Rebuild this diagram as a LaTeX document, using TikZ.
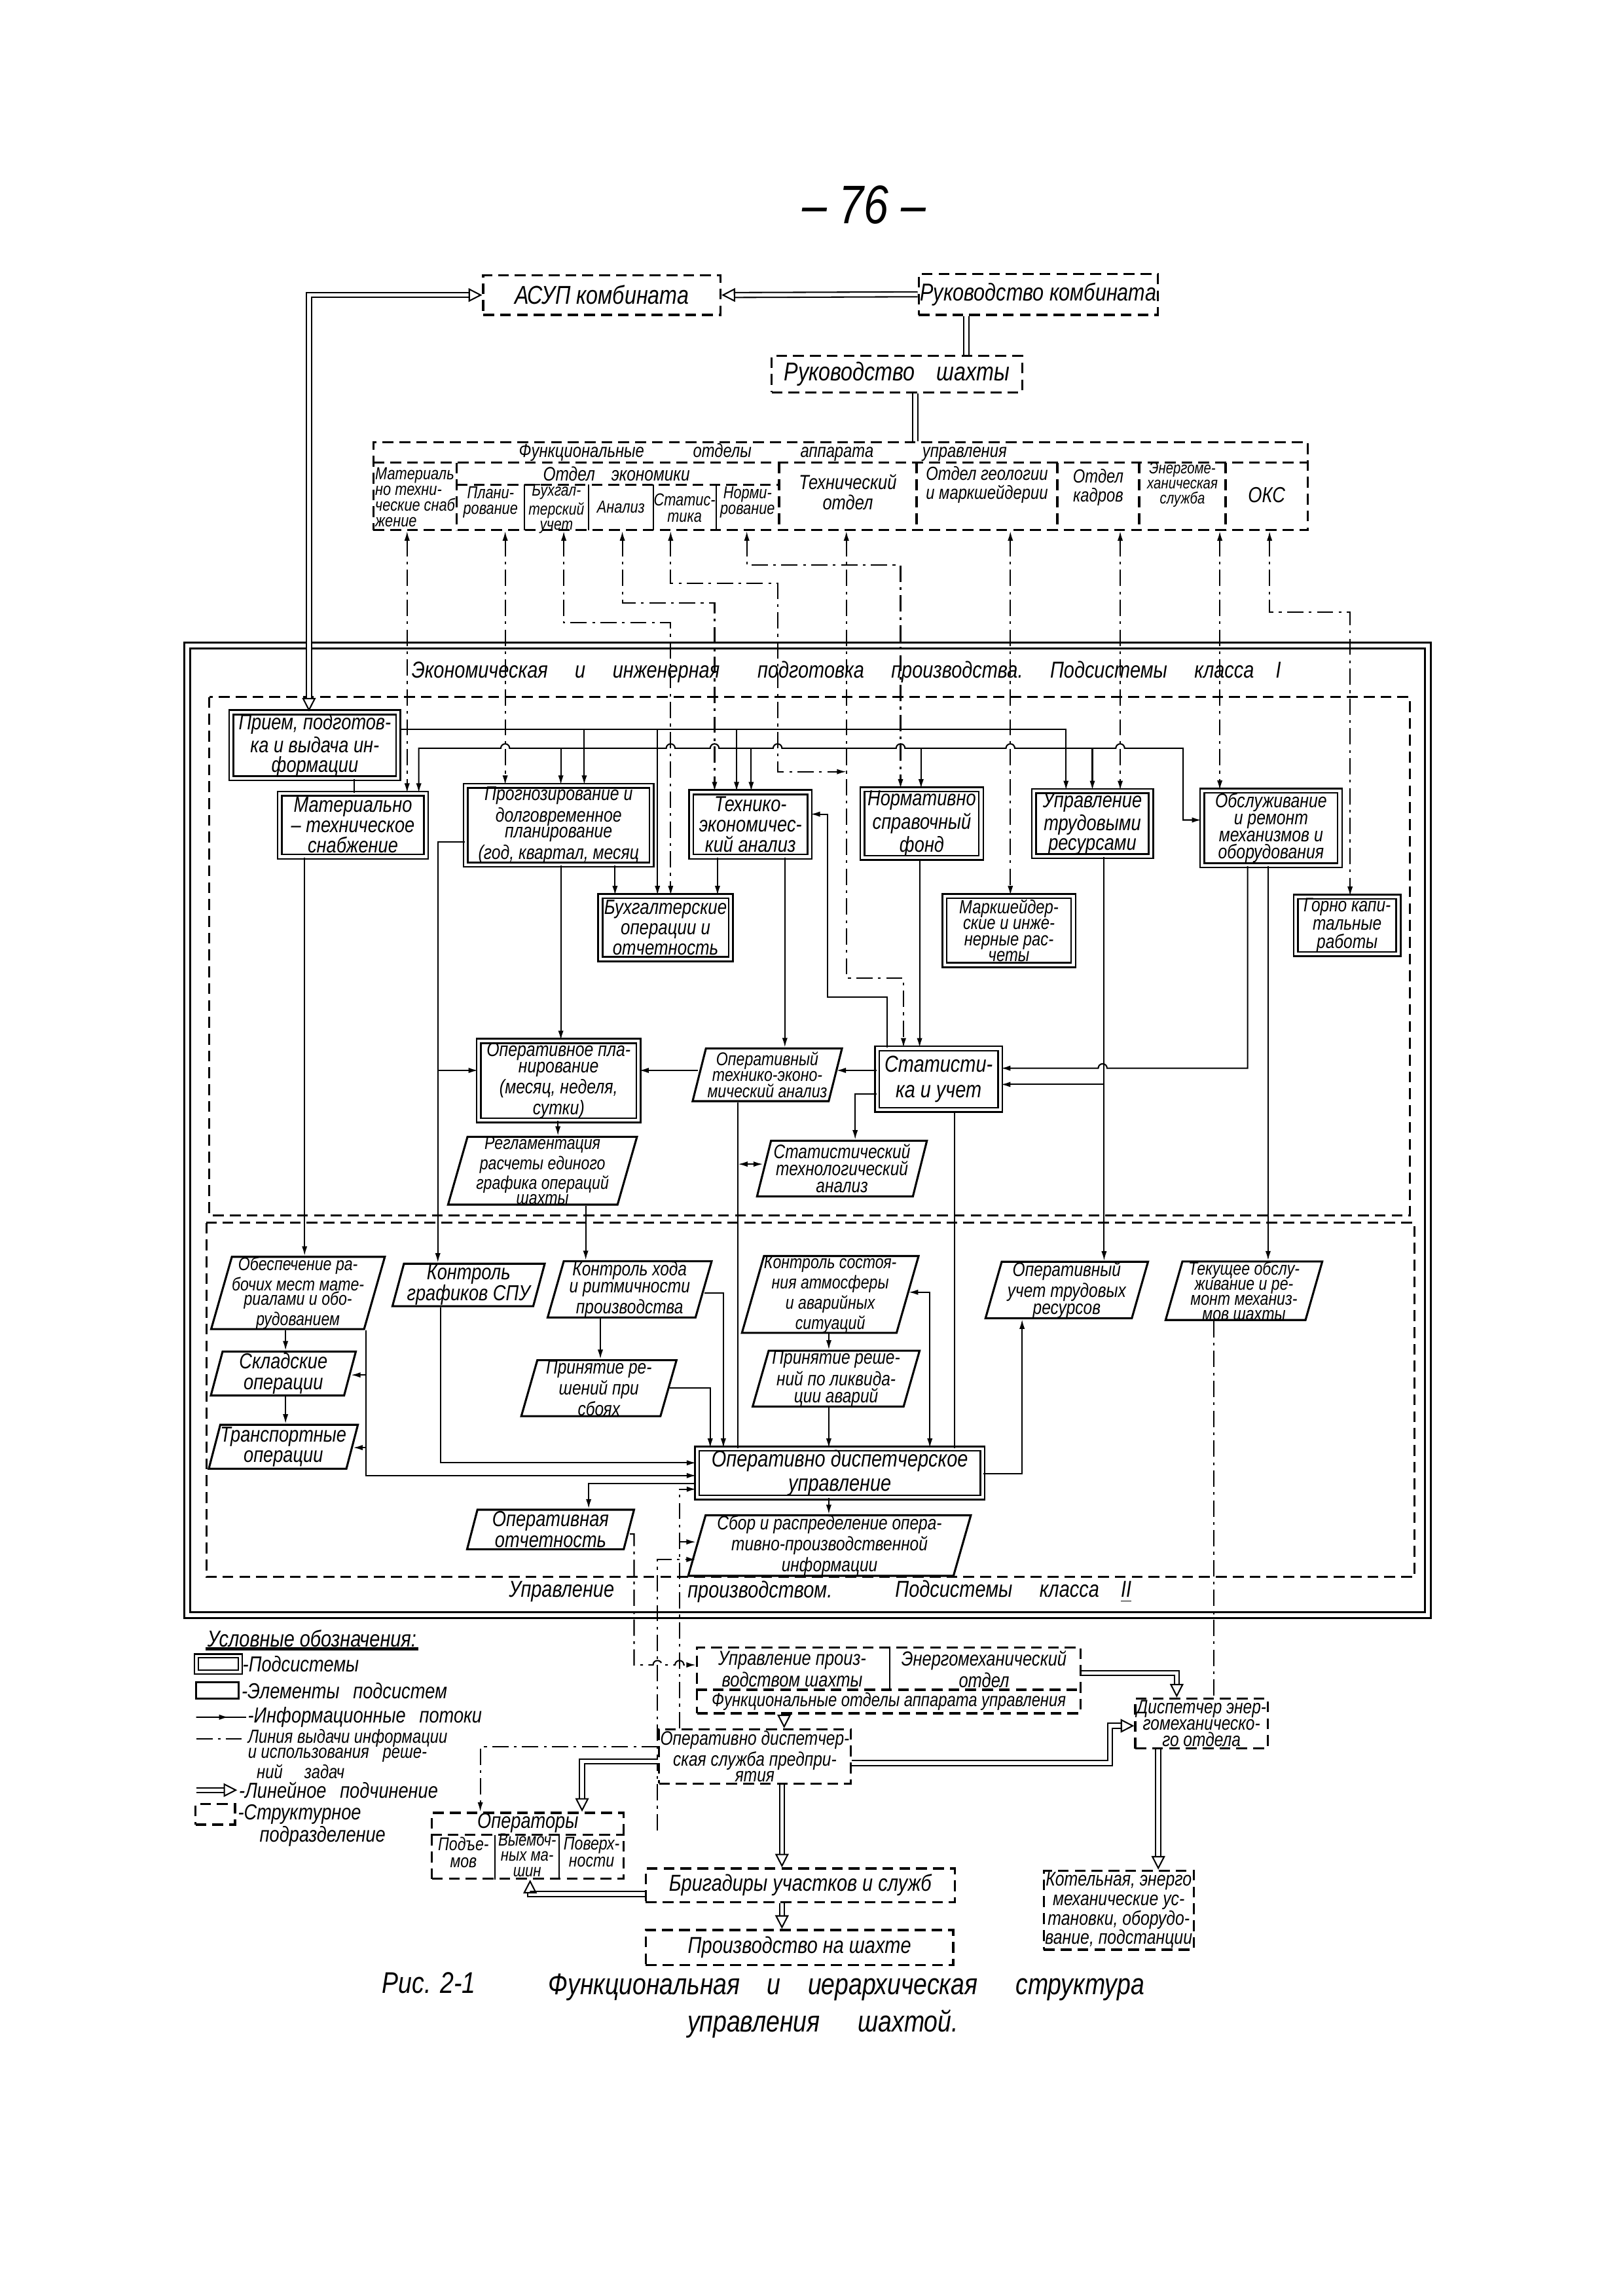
\documentclass[tikz,border=0pt]{standalone}
\usepackage{fontspec}
\setmainfont{Liberation Sans}
\newfontfamily\hand{Liberation Sans}[FakeStretch=0.82]
\usetikzlibrary{arrows.meta,shapes.geometric,calc}
\newcommand\pu{0.018953cm}
\newcommand\hfs[2]{\hand\itshape\fontsize{#1}{#2}\selectfont}
\newcommand\tightlines{\lineskiplimit=-20pt\lineskip=0pt\relax}

\tikzset{
  every node/.style={inner sep=0.5pt, font=\hfs{7}{7.4}},
  subsys/.style={draw, double, double distance=1pt, line width=0.6pt, align=center, font=\hfs{8}{7.4}},
  elem/.style={draw, line width=0.75pt, trapezium, trapezium left angle=74, trapezium right angle=106,
    trapezium stretches body, align=center, inner sep=0pt, font=\hfs{7.2}{6.3}},
  deptline/.style={line width=0.8pt, dash pattern=on 4pt off 2.2pt},
  dept/.style={draw, deptline, align=center},
  tip/.style={-{Latex[length=3.5pt,width=2pt]}},
  link/.style={line width=0.5pt},
  flow/.style={link, tip},
  biflow/.style={link, {Latex[length=3.5pt,width=2pt]}-{Latex[length=3.5pt,width=2pt]}},
  issue/.style={line width=0.5pt, dash pattern=on 6pt off 2pt on 1pt off 2pt},
  dline/.style={double, double distance=1.3pt, line width=0.5pt},
  subord/.style={dline, -{Triangle[open,length=5pt,width=5pt]}}
}

\begin{document}
\begin{tikzpicture}[x=0.018953cm, y=-0.018953cm]
\useasboundingbox (0,0) rectangle (1108,1568);

\node[font=\hfs{20}{22}] (pnum) at (590,140) {– 76 –};

% top of the hierarchy
\node[dept, minimum width=162*\pu, minimum height=27*\pu, font=\hfs{9.5}{10}] (asup) at (411,201.5) {АСУП комбината};
\node[dept, minimum width=162*\pu, minimum height=28*\pu, font=\hfs{9}{10}] (rkomb) at (709,201) {Руководство комбината};
\node[dept, minimum width=171*\pu, minimum height=25*\pu, font=\hfs{9.5}{10}] (rshaht) at (612.5,255.5) {Руководство\hspace{8pt}шахты};
\draw[subord] (rkomb.west) -- (asup.east);
\draw[dline] (660,0 |- rkomb.south) -- (660,0 |- rshaht.north);

% functional departments
\node[dept, minimum width=638*\pu, minimum height=60*\pu] (fund) at (574,332) {};
\draw[dline] (625,0 |- rshaht.south) -- (625,0 |- fund.north);
\draw[deptline] (255,316) -- (893,316);
\draw[deptline] (312,331) -- (532,331);
\foreach \x in {312,532,626,722,778,837} \draw[deptline] (\x,316) -- (\x,362);
\foreach \x in {358,402,446,489} \draw[link] (\x,331) -- (\x,362);
\node[font=\hfs{7}{7}] (fundt) at (521,309) {Функциональные\hspace{18pt}отделы\hspace{18pt}аппарата\hspace{18pt}управления};
\node[font=\hfs{6.4}{5.8}, align=left] (d1) at (283.5,339.5) {Материаль\\но техни-\\ческие снаб\\жение};
\node[font=\hfs{7.2}{7}] (d2) at (421,323.5) {Отдел\hspace{6pt}экономики};
\node[font=\hfs{6.4}{6}, align=center] (d3) at (335,343) {Плани-\\рование};
\node[font=\hfs{6.2}{5.6}, align=center] (d4) at (380,347.5) {Бухгал-\\терский\\учет};
\node[font=\hfs{6.4}{6}, align=center] (d5) at (424,346.5) {Анализ};
\node[font=\hfs{6.4}{6}, align=center] (d6) at (467.5,347) {Статис-\\тика};
\node[font=\hfs{6.4}{6}, align=center] (d7) at (510.5,343) {Норми-\\рование};
\node[font=\hfs{7.5}{7.5}, align=center] (d8) at (579,336) {Технический\\отдел};
\node[font=\hfs{7}{7}, align=center] (d9) at (674,331) {Отдел геологии\\и маркшейдерии};
\node[font=\hfs{7}{7}, align=center] (d10) at (750,333) {Отдел\\кадров};
\node[font=\hfs{6}{5.6}, align=center] (d11) at (807.5,331) {Энергоме-\\ханическая\\служба};
\node[font=\hfs{8}{8}] (d12) at (865,338) {ОКС};

% frame of the two classes
\draw[line width=0.7pt, double, double distance=1.5pt] (128,441) rectangle (975,1103);
\draw[deptline, line width=0.7pt] (143,476) rectangle (963,830);
\draw[deptline, line width=0.7pt] (141,835) rectangle (966,1077);
\node[font=\hfs{8.5}{9}] (t1) at (578,459) {Экономическая\hspace{10pt}и\hspace{10pt}инженерная\hspace{14pt}подготовка\hspace{10pt}производства.\hspace{10pt}Подсистемы\hspace{10pt}класса\hspace{8pt}I};
\node[font=\hfs{8.5}{9}] (t2a) at (383.5,1087) {Управление};
\node[font=\hfs{8.5}{9}] (t2b) at (519,1087) {производством.};
\node[font=\hfs{8.5}{9}] (t2c) at (692,1087) {Подсистемы\hspace{10pt}класса\hspace{8pt}\underline{II}};

% class I
\node[subsys, minimum width=114*\pu, minimum height=42*\pu] (priem) at (215,509) {Прием, подготов-\\ка и выдача ин-\\формации};
\node[subsys, minimum width=100*\pu, minimum height=43*\pu] (mat) at (241,563.5) {Материально\\– техническое\\снабжение};
\node[subsys, minimum width=127*\pu, minimum height=45*\pu, font=\hfs{7.3}{5.9}] (prog) at (381.5,563.5) {Прогнозирование и\\долговременное\\планирование\\(год, квартал, месяц};
\node[subsys, minimum width=81*\pu, minimum height=44*\pu] (tea) at (512.5,563) {Технико-\\экономичес-\\кий анализ};
\node[subsys, minimum width=81*\pu, minimum height=43*\pu] (norm) at (629.5,562.5) {Нормативно\\справочный\\фонд};
\node[subsys, minimum width=80*\pu, minimum height=43*\pu] (trud) at (746,562.5) {Управление\\трудовыми\\ресурсами};
\node[subsys, minimum width=94*\pu, minimum height=51*\pu, font=\hfs{7.3}{6.3}] (obsl) at (868,565.5) {Обслуживание\\и ремонт\\механизмов и\\оборудования};
\node[subsys, minimum width=89*\pu, minimum height=43*\pu, font=\hfs{7.6}{7.4}] (buh) at (454.5,633.5) {Бухгалтерские\\операции и\\отчетность};
\node[subsys, minimum width=88*\pu, minimum height=47*\pu, font=\hfs{7}{5.9}] (mark) at (689,635.5) {Маркшейдер-\\ские и инже-\\нерные рас-\\четы};
\node[subsys, minimum width=70*\pu, minimum height=38*\pu, font=\hfs{7.2}{6.8}] (gorn) at (920,632) {Горно капи-\\тальные\\работы};
\node[subsys, minimum width=109*\pu, minimum height=44*\pu, font=\hfs{7.3}{6}] (opplan) at (381.5,738) {Оперативное пла-\\нирование\\(месяц, неделя,\\сутки)};
\node[elem, minimum width=102*\pu, minimum height=36*\pu, font=\hfs{6.8}{6}] (optea) at (524,734) {Оперативный\\технико-эконо-\\мический анализ};
\node[subsys, minimum width=84*\pu, minimum height=42*\pu, font=\hfs{8.5}{9.5}] (stat) at (641,737) {Статисти-\\ка и учет};
\node[elem, minimum width=129*\pu, minimum height=41*\pu, font=\hfs{6.8}{5.5}] (regl) at (370.5,799.5) {Регламентация\\расчеты единого\\графика операций\\шахты};
\node[elem, minimum width=116*\pu, minimum height=38*\pu] (stta) at (575,798) {Статистический\\технологический\\анализ};

% class II
\node[elem, minimum width=117*\pu, minimum height=40*\pu, font=\hfs{6.8}{5.5}] (obesp) at (203.5,883) {Обеспечение ра-\\бочих мест мате-\\риалами и обо-\\рудованием};
\node[elem, minimum width=104*\pu, minimum height=29*\pu, font=\hfs{8}{7.6}] (kspu) at (320,877.5) {Контроль\\графиков СПУ};
\node[elem, minimum width=112*\pu, minimum height=35*\pu] (khod) at (430,880.5) {Контроль хода\\и ритмичности\\производства};
\node[elem, minimum width=112*\pu, minimum height=42*\pu, font=\hfs{6.8}{5.5}] (katm) at (567,884) {Контроль состоя-\\ния атмосферы\\и аварийных\\ситуаций};
\node[elem, minimum width=111*\pu, minimum height=38*\pu] (ouchet) at (728.5,881) {Оперативный\\учет трудовых\\ресурсов};
\node[elem, minimum width=107*\pu, minimum height=39*\pu, font=\hfs{6.8}{5.5}] (tekob) at (849.5,881.5) {Текущее обслу-\\живание и ре-\\монт механиз-\\мов шахты};
\node[elem, minimum width=99*\pu, minimum height=30*\pu, font=\hfs{8}{7.6}] (sklad) at (193.5,938) {Складские\\операции};
\node[elem, minimum width=95*\pu, minimum height=30*\pu, font=\hfs{8}{7.6}] (transp) at (193.5,988) {Транспортные\\операции};
\node[elem, minimum width=106*\pu, minimum height=34*\pu] (sboi) at (409,948) {Принятие ре-\\шений при\\сбоях};
\node[elem, minimum width=114*\pu, minimum height=37*\pu] (likv) at (571,941.5) {Принятие реше-\\ний по ликвида-\\ции аварий};
\node[subsys, minimum width=195*\pu, minimum height=32*\pu, font=\hfs{8.5}{9}] (oddisp) at (573.5,1006) {Оперативно диспетчерское\\управление};
\node[elem, minimum width=114*\pu, minimum height=27*\pu, font=\hfs{8}{7.6}] (opotch) at (376,1044.5) {Оперативная\\отчетность};
\node[elem, minimum width=193*\pu, minimum height=33*\pu] (sbor) at (566.5,1055.5) {Сбор и распределение опера-\\тивно-производственной\\информации};

\draw[dline, {Triangle[open,length=5pt,width=5pt]}-{Triangle[open,length=5pt,width=5pt]}] (asup.west) -| (211,0 |- priem.north);

% connectors from the functional departments
\draw[issue, biflow] (278,0 |- fund.south) -- (278,0 |- mat.north);
\draw[issue, biflow] (345,0 |- fund.south) -- (345,0 |- prog.north);
\draw[issue, biflow] (385,0 |- fund.south) |- (458,425.4) -- (458,0 |- buh.north);
\draw[issue, biflow] (425,0 |- fund.south) |- (488,411.6) -- (488,0 |- tea.north);
\draw[issue, biflow] (458,0 |- fund.south) |- (531,398.5) |- (578,527);
\draw[issue, biflow] (510,0 |- fund.south) |- (615,386) -- (615,0 |- norm.north);
\draw[issue, biflow] (578,0 |- fund.south) |- (617,668) -- (617,0 |- stat.north);
\draw[issue, biflow] (690,0 |- fund.south) -- (690,0 |- mark.north);
\draw[issue, biflow] (765,0 |- fund.south) -- (765,0 |- trud.north);
\draw[issue, biflow] (833,0 |- fund.south) -- (833,0 |- obsl.north);
\draw[issue, biflow] (867,0 |- fund.south) |- (922,418) -- (922,0 |- gorn.north);

% buses of class I
\draw[flow] (priem.east |- 0,498) -| (728,0 |- trud.north);
\draw[flow] (399,498) -- (399,0 |- prog.north);
\draw[flow] (449,498) -- (449,0 |- buh.north);
\draw[flow] (503,498) -- (503,0 |- tea.north);
\draw[biflow] (286,0 |- mat.north) -- (286,511) -- (342,511) arc[start angle=180,end angle=360,radius=3]
  -- (455,511) arc[start angle=180,end angle=360,radius=3]
  -- (485,511) arc[start angle=180,end angle=360,radius=3]
  -- (528,511) arc[start angle=180,end angle=360,radius=3]
  -- (612,511) arc[start angle=180,end angle=360,radius=3]
  -- (687,511) arc[start angle=180,end angle=360,radius=3]
  -- (762,511) arc[start angle=180,end angle=360,radius=3]
  -- (808,511) |- (obsl.west |- 0,560);
\draw[flow] (383,511) -- (383,0 |- prog.north);
\draw[flow] (513,511) -- (513,0 |- tea.north);
\draw[flow] (629,511) -- (629,0 |- norm.north);
\draw[flow] (746,511) -- (746,0 |- trud.north);

% inside class I
\draw[link] (242,0 |- priem.south) -- (242,0 |- mat.north);
\draw[flow] (208,0 |- mat.south) -- (208,0 |- obesp.north);
\draw[flow] (prog.west |- 0,575) -| (299,0 |- kspu.north);
\draw[flow] (299,731) -- (opplan.west |- 0,731);
\draw[flow] (383,0 |- prog.south) -- (383,0 |- opplan.north);
\draw[flow] (420,0 |- prog.south) -- (420,0 |- buh.north);
\draw[flow] (490,0 |- tea.south) -- (490,0 |- buh.north);
\draw[flow] (536,0 |- tea.south) -- (536,0 |- optea.north);
\draw[flow] (606,0 |- stat.north) |- (565,681) |- (tea.east |- 0,556);
\draw[flow] (628,0 |- norm.south) -- (628,0 |- stat.north);
\draw[flow] (optea.west |- 0,731) -- (opplan.east |- 0,731);
\draw[flow] (stat.west |- 0,731) -- (optea.east |- 0,731);
\draw[flow] (381,0 |- opplan.south) -- (381,0 |- regl.north);
\draw[flow] (stat.west |- 0,747) -| (584,0 |- stta.north);
\draw[link] (504,0 |- optea.south) -- (504,0 |- oddisp.north);
\draw[biflow] (504,795) -- (stta.west |- 0,795);
\draw[flow] (400,0 |- regl.south) -- (400,0 |- khod.north);
\draw[link] (652,0 |- stat.south) -- (652,0 |- oddisp.north);
\draw[flow] (852,0 |- obsl.south) |- (756,729.5) arc[start angle=0,end angle=-180,radius=3] -- (stat.east |- 0,729.5);
\draw[flow] (754,0 |- trud.south) -- (754,0 |- ouchet.north);
\draw[flow] (754,740.6) -- (stat.east |- 0,740.6);
\draw[flow] (866,0 |- obsl.south) -- (866,0 |- tekob.north);

% inside class II
\draw[flow] (195,0 |- obesp.south) -- (195,0 |- sklad.north);
\draw[flow] (195,0 |- sklad.south) -- (195,0 |- transp.north);
\draw[flow] (250,0 |- obesp.south) |- (oddisp.west |- 0,1007.7);
\draw[flow] (250,939) -- (sklad.east |- 0,939);
\draw[flow] (250,988.6) -- (transp.east |- 0,988.6);
\draw[flow] (301,0 |- kspu.south) |- (oddisp.west |- 0,999);
\draw[flow] (410,0 |- khod.south) -- (410,0 |- sboi.north);
\draw[flow] (khod.east |- 0,883) -| (494,0 |- oddisp.north);
\draw[flow] (sboi.east |- 0,948) -| (485,0 |- oddisp.north);
\draw[flow] (566,0 |- katm.south) -- (566,0 |- likv.north);
\draw[flow] (566,0 |- likv.south) -- (566,0 |- oddisp.north);
\draw[biflow] (635,0 |- oddisp.north) |- (katm.east |- 0,882.5);
\draw[flow] (oddisp.east |- 0,1006.5) -| (698,0 |- ouchet.south);
\draw[flow] (566,0 |- oddisp.south) -- (566,0 |- sbor.north);
\draw[flow] (oddisp.west |- 0,1013) -| (402,0 |- opotch.north);

% lower organisation
\node[dept, minimum width=262*\pu, minimum height=45*\pu] (upr) at (607,1147.5) {};
\draw[deptline] (upr.west |- 0,1154) -- (upr.east |- 0,1154);
\draw[link] (607.6,0 |- upr.north) -- (607.6,1154);
\node[font=\hfs{7.5}{6.6}, align=center] (upra) at (541,1140) {Управление произ-\\водством шахты};
\node[font=\hfs{7.5}{6.6}, align=center] (uprb) at (672,1140) {Энергомеханический\\отдел};
\node[font=\hfs{7}{7}] (uprc) at (607,1162) {Функциональные отделы аппарата управления};
\node[dept, minimum width=125*\pu, minimum height=33*\pu, font=\hfs{7.2}{5.9}] (odsl) at (515.5,1199.5) {Оперативно диспетчер-\\ская служба предпри-\\ятия};
\node[dept, minimum width=85*\pu, minimum height=34*\pu, font=\hfs{7.2}{6}] (dispen) at (820.5,1177) {Диспетчер энер-\\гомеханическо-\\го отдела};
\node[dept, minimum width=211*\pu, minimum height=23*\pu, font=\hfs{8.5}{9}] (brig) at (546.5,1287.5) {Бригадиры участков и служб};
\node[dept, minimum width=210*\pu, minimum height=24*\pu, font=\hfs{8.5}{9}] (proizv) at (546,1330) {Производство на шахте};
\node[dept, minimum width=92*\pu, minimum height=49*\pu, font=\hfs{7.3}{7.2}] (kotel) at (764,1304.5) {Котельная, энерго\\механические ус-\\тановки, оборудо-\\вание, подстанции};
\node[dept, minimum width=131*\pu, minimum height=45*\pu] (oper) at (360.5,1260.5) {};
\draw[deptline] (oper.west |- 0,1253) -- (oper.east |- 0,1253);
\foreach \x in {338,382} \draw[link] (\x,1253) -- (\x,0 |- oper.south);
\node[font=\hfs{8}{8}] (opera) at (360.5,1245) {Операторы};
\node[font=\hfs{6.8}{6.3}, align=center] (operb) at (316.5,1265) {Подъе-\\мов};
\node[font=\hfs{6.5}{5.6}\tightlines, align=center] (operc) at (360,1267) {Выемоч-\\ных ма-\\шин};
\node[font=\hfs{6.8}{6.3}, align=center] (operd) at (404,1265) {Поверх-\\ности};

\draw[issue] (829,0 |- tekob.south) -- (829,0 |- dispen.north);
\draw[issue, tip] (464,0 |- odsl.north) |- (oddisp.west |- 0,1017);
\draw[issue, tip] (464,1053) -- (sbor.west |- 0,1053);
\coordinate (e449) at (449,1250);
\draw[issue, tip] (e449) |- (sbor.west |- 0,1065);
\draw[issue, tip] (opotch.east |- 0,1047.6) -- (433,1047.6) -- (433,1137) -- (446,1137)
  arc[start angle=180,end angle=360,radius=3] -- (461,1137)
  arc[start angle=180,end angle=360,radius=3] -- (upr.west |- 0,1137);
\draw[subord] (535.5,0 |- upr.south) -- (535.5,0 |- odsl.north);
\draw[subord] (upr.east |- 0,1142.5) -| (803.6,0 |- dispen.north);
\draw[subord] (odsl.east |- 0,1204) -| (758,1178.6) -- (dispen.west |- 0,1178.6);
\draw[subord] (534,0 |- odsl.south) -- (534,0 |- brig.north);
\draw[subord] (534,0 |- brig.south) -- (534,0 |- proizv.north);
\draw[subord] (791,0 |- dispen.south) -- (791,0 |- kotel.north);
\draw[subord] (odsl.west |- 0,1203) -| (397.5,0 |- oper.north);
\draw[subord] (brig.west |- 0,1293.5) -| (362,0 |- oper.south);
\draw[issue, tip] (odsl.west |- 0,1193) -| (328,0 |- oper.north);

% legend
\node[font=\hfs{8.5}{9}] (lgt) at (213,1119) {Условные обозначения:};
\draw[line width=1.2pt] (lgt.south west) -- (lgt.south east);
\node[draw, double, double distance=0.9pt, line width=0.5pt, minimum width=30*\pu, minimum height=11*\pu] (lg1) at (149,1136.4) {};
\node[elem, trapezium left angle=62, trapezium right angle=118, minimum width=29*\pu, minimum height=11*\pu] (lg2) at (148.5,1154.5) {};
\coordinate (lg3a) at (134,1172.7);
\coordinate (lg3b) at (168,1172.7);
\draw[flow] (lg3a) -- ($(lg3a)!0.65!(lg3b)$);
\draw[link] (lg3a) -- (lg3b);
\coordinate (lg4a) at (134,1187.5);
\coordinate (lg4b) at (165,1187.5);
\draw[issue] (lg4a) -- (lg4b);
\coordinate (lg5a) at (134,1222.5);
\coordinate (lg5b) at (162,1222.5);
\draw[subord] (lg5a) -- (lg5b);
\node[dept, minimum width=27*\pu, minimum height=14*\pu] (lg6) at (147,1239) {};
\node[font=\hfs{8}{9}, anchor=west] (lg1t) at (lg1.east) {-Подсистемы};
\node[font=\hfs{8}{9}, anchor=west] (lg2t) at (lg2.east) {-Элементы\hspace{5pt}подсистем};
\node[font=\hfs{8}{9}, anchor=west] (lg3t) at (lg3b) {-Информационные\hspace{5pt}потоки};
\node[font=\hfs{7}{7}, anchor=west, inner sep=0pt] (lg4t) at (169,1187) {Линия выдачи информации};
\node[font=\hfs{7}{7}, anchor=west, inner sep=0pt] (lg4u) at (169,1198.5) {и использования\hspace{5pt}реше-};
\node[font=\hfs{7}{7}, anchor=west, inner sep=0pt] (lg4v) at (175,1210) {ний\hspace{8pt}задач};
\node[font=\hfs{8}{9}, anchor=west] (lg5t) at (lg5b) {-Линейное\hspace{5pt}подчинение};
\node[font=\hfs{8}{8}, anchor=north west, align=left] (lg6t) at (lg6.north east) {-Структурное\\\hspace{8pt}подразделение};

% caption
\node[font=\hfs{11}{12}] (cap1) at (293,1354) {Рис. 2-1};
\node[font=\hfs{11}{12}] (cap2) at (578,1357) {Функциональная\hspace{10pt}и\hspace{10pt}иерархическая\hspace{14pt}структура};
\node[font=\hfs{11}{12}] (cap3) at (562,1382) {управления\hspace{14pt}шахтой.};
\end{tikzpicture}
\end{document}
